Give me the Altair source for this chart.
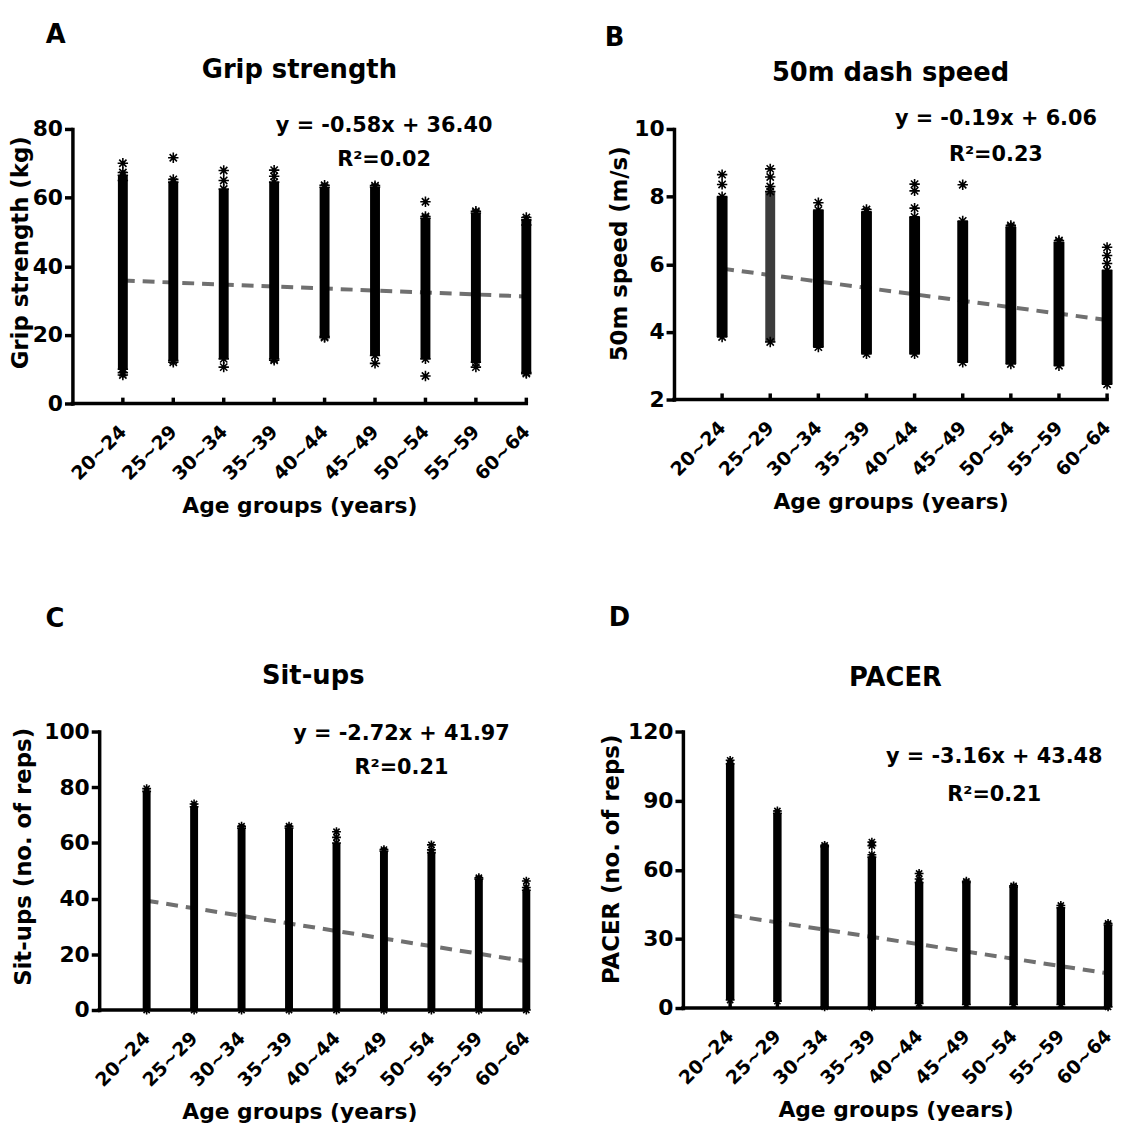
import json
import altair as alt
import pandas as pd

FONT = "DejaVu Sans"

groups = ["20~24", "25~29", "30~34", "35~39", "40~44", "45~49", "50~54", "55~59", "60~64"]
positions = [1, 2, 3, 4, 5, 6, 7, 8, 9]

# ---- Panel A: Grip strength (kg) ----
grip_low = [10.0, 12.5, 13.0, 13.0, 19.5, 14.0, 13.0, 12.0, 9.0]
grip_high = [66.5, 64.5, 62.5, 64.5, 63.0, 63.0, 54.0, 55.5, 53.5]
grip_out_x = [1, 1, 1, 1, 1, 2, 2, 2, 3, 3, 3, 4, 4, 4, 5, 5, 6, 6, 7, 7, 7, 8, 8, 9, 9, 9]
grip_out_y = [70.0, 67.3, 65.0, 9.0, 8.3, 71.6, 65.3, 12.0, 67.9, 65.0, 10.6, 68.0, 66.2, 12.6,
              63.6, 19.2, 63.5, 11.7, 58.8, 54.5, 8.0, 56.0, 10.6, 54.2, 52.0, 8.7]
grip_fit = [35.82, 31.18]

# ---- Panel B: 50m speed (m/s) ----
dash_low = [3.85, 3.70, 3.55, 3.35, 3.35, 3.10, 3.05, 3.00, 2.45]
dash_high = [8.00, 8.15, 7.60, 7.55, 7.40, 7.28, 7.10, 6.65, 5.82]
dash_out_x = [1, 1, 2, 2, 2, 3, 4, 5, 5, 5, 6, 7, 8, 9, 9, 9]
dash_out_y = [8.65, 8.36, 8.82, 8.58, 8.30, 7.82, 7.62, 8.37, 8.17, 7.66, 8.35, 7.15, 6.70,
              6.50, 6.26, 6.02]
dash_fit = [5.87, 4.35]
dash_sparse = [2]          # the 25~29 column is drawn lighter in the figure

# ---- Panel C: Sit-ups (reps) ----
situp_low = [0, 0, 0, 0, 0, 0, 0, 0, 0]
situp_high = [78.5, 73.0, 65.3, 65.3, 60.0, 57.0, 56.5, 47.0, 43.0]
situp_out_x = [1, 2, 3, 4, 5, 5, 6, 7, 7, 8, 9, 9]
situp_out_y = [79.5, 74.0, 66.0, 66.0, 64.0, 62.0, 57.6, 59.3, 57.5, 47.5, 46.3, 44.0]
situp_fit = [39.25, 17.49]

# ---- Panel D: PACER (reps) ----
pacer_low = [3.5, 3.0, 0.5, 0.5, 2.0, 1.5, 1.5, 1.5, 0.5]
pacer_high = [106.0, 84.5, 70.0, 65.5, 54.5, 54.5, 52.5, 43.5, 36.0]
pacer_out_x = [1, 2, 3, 4, 4, 4, 5, 5, 6, 7, 8, 9]
pacer_out_y = [107.5, 85.5, 70.6, 72.0, 70.5, 66.5, 58.4, 56.0, 55.0, 53.0, 44.5, 36.7]
pacer_fit = [40.32, 15.04]

STAR = "M0,-1L0,1M-1,0L1,0M-0.7,-0.7L0.7,0.7M-0.7,0.7L0.7,-0.7"
label_expr = json.dumps([""] + groups) + "[datum.value]"


def make_panel(p):
    ydom = p["ydom"]
    xs = alt.Scale(domain=[p["xmin"], 9], nice=False, zero=False)
    ys = alt.Scale(domain=ydom, nice=False, zero=False)
    xaxis = alt.Axis(values=positions, labelExpr=label_expr, labelAngle=-45,
                     labelAlign="right", labelBaseline="middle", labelPadding=25,
                     labelFontSize=19, ticks=False, tickSize=0, titleFontSize=22,
                     titlePadding=12, domain=False, labelOverlap=False, labelFlush=False)
    yaxis = alt.Axis(values=p["yticks"], labelFontSize=22, tickSize=8, tickWidth=3.5,
                     labelPadding=2, titleFontSize=23, titlePadding=p["ytpad"],
                     titleY=p["titleY"], offset=p["yoff"],
                     domainWidth=3.5, domainCap="square", labelOverlap=False,
                     labelFlush=False)

    def X():
        return alt.X("x:Q", scale=xs, axis=xaxis, title="Age groups (years)")

    def Y(field):
        return alt.Y(field, scale=ys, axis=yaxis, title=p["ytitle"])

    low, high = p["low"], p["high"]
    sparse = p.get("sparse", [])
    strips = pd.DataFrame({"x": positions, "lo": low, "hi": high})
    dense = strips[~strips["x"].isin(sparse)]
    light = strips[strips["x"].isin(sparse)]
    ends = pd.DataFrame({"x": positions + positions, "y": low + high})
    outs = pd.DataFrame({"x": p["out_x"], "y": p["out_y"]})
    reg = pd.DataFrame({"x": [1, 9], "y": p["fit"]})
    ticks = pd.DataFrame({"x": positions, "lo": [ydom[0]] * 9,
                          "hi": [ydom[0] + p["tick_len"]] * 9})
    baseline = pd.DataFrame({"x": [0], "x2": [9], "y": [ydom[0]]})
    letter_df = pd.DataFrame({"x": [p["letter_pos"][0]], "y": [p["letter_pos"][1]],
                              "t": [p["letter"]]})
    title_df = pd.DataFrame({"x": [p["title_pos"][0]], "y": [p["title_pos"][1]],
                             "t": [p["title"]]})
    eq_df = pd.DataFrame({"x": [p["eq_x"], p["eq_x"]], "y": [p["eq_y"], p["r2_y"]],
                          "t": [p["eq"], p["r2"]]})

    layers = []
    layers.append(alt.Chart(ticks).mark_rule(color="black", strokeWidth=3.5).encode(
        x=X(), y=Y("lo:Q"), y2="hi:Q"))
    layers.append(alt.Chart(reg).mark_line(color="#707070", strokeWidth=4,
                                           strokeDash=[12, 8]).encode(x=X(), y=Y("y:Q")))
    layers.append(alt.Chart(dense).mark_rule(color="black", strokeWidth=p["strip_w"],
                                             strokeCap="butt").encode(
        x=X(), y=Y("lo:Q"), y2="hi:Q"))
    if len(light):
        layers.append(alt.Chart(light).mark_rule(color="#3c3c3c", strokeWidth=p["strip_w"] - 1,
                                                 strokeCap="butt").encode(
            x=X(), y=Y("lo:Q"), y2="hi:Q"))
    for df in (ends, outs):
        layers.append(alt.Chart(df).mark_point(shape=STAR, filled=False, color="black",
                                               strokeWidth=1.6, size=p["star"],
                                               opacity=1).encode(x=X(), y=Y("y:Q")))
    layers.append(alt.Chart(baseline).mark_rule(color="black", strokeWidth=3.5,
                                                strokeCap="square").encode(
        x=X(), x2="x2:Q", y=Y("y:Q")))
    layers.append(alt.Chart(letter_df).mark_text(font=FONT, fontWeight="bold",
                                                 fontSize=26, align="left",
                                                 baseline="alphabetic",
                                                 color="black").encode(
        x=X(), y=Y("y:Q"), text="t:N"))
    layers.append(alt.Chart(title_df).mark_text(font=FONT, fontWeight="bold",
                                                fontSize=26, align="center",
                                                baseline="alphabetic",
                                                color="black").encode(
        x=X(), y=Y("y:Q"), text="t:N"))
    layers.append(alt.Chart(eq_df).mark_text(font=FONT, fontWeight="bold", fontSize=21,
                                             align="center", baseline="alphabetic",
                                             color="black").encode(
        x=X(), y=Y("y:Q"), text="t:N"))

    return alt.layer(*layers).properties(width=p["w"], height=p["h"])


pA = make_panel(dict(
    letter="A", title="Grip strength", ytitle="Grip strength (kg)",
    low=grip_low, high=grip_high, out_x=grip_out_x, out_y=grip_out_y, fit=grip_fit,
    eq="y = -0.58x + 36.40", r2="R²=0.02", ydom=[0, 80], yticks=[0, 20, 40, 60, 80],
    xmin=0, w=458, h=277, letter_pos=(-0.53, 105.1), title_pos=(4.5, 94.9),
    eq_x=6.18, eq_y=79.1, r2_y=69.1, ytpad=0, titleY=124.5, yoff=0,
    tick_len=1.7, strip_w=10, star=110))
pB = make_panel(dict(
    letter="B", title="50m dash speed", ytitle="50m speed (m/s)",
    low=dash_low, high=dash_high, out_x=dash_out_x, out_y=dash_out_y, fit=dash_fit,
    sparse=dash_sparse,
    eq="y = -0.19x + 6.06", r2="R²=0.23", ydom=[2, 10], yticks=[2, 4, 6, 8, 10],
    xmin=0, w=437, h=273, letter_pos=(-1.44, 12.46), title_pos=(4.5, 11.43),
    eq_x=6.69, eq_y=10.11, r2_y=9.05, ytpad=2, titleY=125.5, yoff=0,
    tick_len=0.18, strip_w=11, star=110))
pC = make_panel(dict(
    letter="C", title="Sit-ups", ytitle="Sit-ups (no. of reps)",
    low=situp_low, high=situp_high, out_x=situp_out_x, out_y=situp_out_y, fit=situp_fit,
    eq="y = -2.72x + 41.97", r2="R²=0.21", ydom=[0, 100], yticks=[0, 20, 40, 60, 80, 100],
    xmin=-0.564, w=458, h=281, letter_pos=(-1.13, 137.4), title_pos=(4.51, 117.1),
    eq_x=6.37, eq_y=97.1, r2_y=84.6, ytpad=8, titleY=126, yoff=-27,
    tick_len=2.1, strip_w=8, star=80))
pD = make_panel(dict(
    letter="D", title="PACER", ytitle="PACER (no. of reps)",
    low=pacer_low, high=pacer_high, out_x=pacer_out_x, out_y=pacer_out_y, fit=pacer_fit,
    eq="y = -3.16x + 43.48", r2="R²=0.21", ydom=[0, 120], yticks=[0, 30, 60, 90, 120],
    xmin=0, w=429, h=279, letter_pos=(-1.57, 166.0), title_pos=(4.5, 139.9),
    eq_x=6.59, eq_y=106.2, r2_y=89.8, ytpad=4, titleY=128.5, yoff=0,
    tick_len=2.6, strip_w=8.5, star=80))

row1 = alt.hconcat(pA, pB, spacing=149, bounds="flush")
row2 = alt.hconcat(pC, pD, spacing=158, bounds="flush")

chart = alt.vconcat(row1, row2, spacing=89).properties(
    padding={"left": 1, "top": 9, "right": 0, "bottom": 0},
    background="white",
).configure_view(stroke=None).configure_axis(
    labelFont=FONT, titleFont=FONT, labelFontWeight="bold", titleFontWeight="bold",
    labelColor="black", titleColor="black", domainColor="black", tickColor="black",
    grid=False,
).configure_title(font=FONT, fontWeight="bold", color="black")

chart.save("out.html", embed_options={"renderer": "svg", "actions": False})
